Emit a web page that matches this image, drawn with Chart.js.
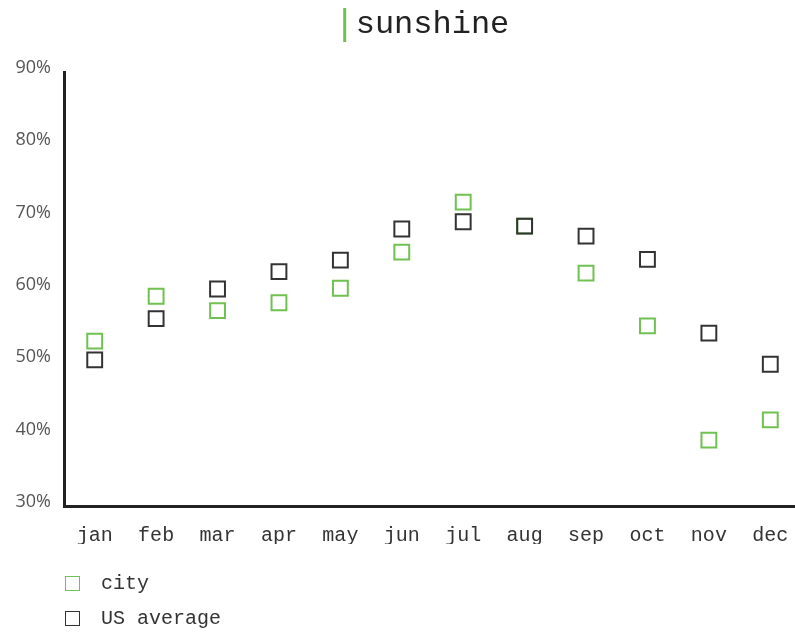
<!DOCTYPE html>
<html>
<head>
<meta charset="utf-8">
<title>sunshine</title>
<script src="https://cdn.jsdelivr.net/npm/chart.js@4"></script>
<style>
  html, body { margin: 0; padding: 0; background: #fff; overflow: hidden; }
  .wrap { position: relative; width: 795px; height: 634px; overflow: hidden; }
  #legend { position: absolute; left: 65px; top: 566px; margin: 0; padding: 0; list-style: none;
    font-family: "Liberation Mono", monospace; font-size: 20px; color: #333; }
  #legend li { display: flex; align-items: center; height: 35px; }
  #legend .box { width: 13px; height: 13px; border: 1.5px solid; margin-right: 21px; box-sizing: content-box; }
</style>
</head>
<body>
<div class="wrap">
  <canvas id="chart" width="801" height="634"></canvas>
  <ul id="legend"></ul>
</div>
<script>
// Sunshine — city vs US average

const months = ['jan', 'feb', 'mar', 'apr', 'may', 'jun', 'jul', 'aug', 'sep', 'oct', 'nov', 'dec'];
const cityValues = [52.8, 59.0, 57.0, 58.1, 60.1, 65.1, 72.0, 68.7, 62.2, 54.9, 39.1, 41.9];
const usValues = [50.2, 55.9, 60.0, 62.4, 64.0, 68.3, 69.3, 68.7, 67.3, 64.1, 53.9, 49.6];
const yTicks = [30, 40, 50, 60, 70, 80, 90];

const GREEN = '#6fc150';
const DARK = '#333333';
const TITLE_FONT = '32px "Liberation Mono", monospace';

// green bar drawn just left of the title text
const titleBar = {
  id: 'titleBar',
  afterDraw(chart) {
    const t = chart.titleBlock;
    if (!t || !t.options.display) return;
    const ctx = chart.ctx;
    ctx.save();
    ctx.font = TITLE_FONT;
    const w = ctx.measureText(t.options.text).width;
    const cx = (t.left + t.right) / 2;
    const x = cx - w / 2 - 11;
    ctx.strokeStyle = GREEN;
    ctx.lineWidth = 3;
    ctx.beginPath();
    ctx.moveTo(x, 8);
    ctx.lineTo(x, 42);
    ctx.stroke();
    ctx.restore();
  }
};

// html legend, one row per dataset
const htmlLegend = {
  id: 'htmlLegend',
  afterUpdate(chart) {
    const ul = document.getElementById('legend');
    ul.innerHTML = '';
    chart.data.datasets.forEach(ds => {
      const li = document.createElement('li');
      const box = document.createElement('span');
      box.className = 'box';
      box.style.borderColor = ds.borderColor;
      const txt = document.createElement('span');
      txt.textContent = ds.label;
      li.appendChild(box);
      li.appendChild(txt);
      ul.appendChild(li);
    });
  }
};

new Chart(document.getElementById('chart'), {
  type: 'line',
  data: {
    labels: months,
    datasets: [
      {
        label: 'city',
        data: cityValues,
        showLine: false,
        pointStyle: 'rect',
        pointRadius: 10.5,
        pointHoverRadius: 10.5,
        pointBorderWidth: 2,
        borderColor: GREEN,
        backgroundColor: 'rgba(0,0,0,0)',
        pointBackgroundColor: 'rgba(0,0,0,0)',
        order: 1
      },
      {
        label: 'US average',
        data: usValues,
        showLine: false,
        pointStyle: 'rect',
        pointRadius: 10.5,
        pointHoverRadius: 10.5,
        pointBorderWidth: 2,
        borderColor: DARK,
        backgroundColor: 'rgba(0,0,0,0)',
        pointBackgroundColor: 'rgba(0,0,0,0)',
        order: 0
      }
    ]
  },
  options: {
    responsive: false,
    animation: false,
    layout: { autoPadding: false, padding: { top: 0, left: 0, right: 0, bottom: 90 } },
    plugins: {
      legend: { display: false },
      tooltip: { enabled: false },
      title: {
        display: true,
        fullSize: false,
        text: 'sunshine',
        color: '#222',
        font: { family: '"Liberation Mono", monospace', size: 32, weight: 'normal', lineHeight: 1.2 },
        padding: { top: 5, bottom: 28.6 }
      }
    },
    scales: {
      x: {
        offset: true,
        grid: { display: false, drawTicks: false },
        border: { display: true, color: '#222', width: 3 },
        ticks: {
          color: '#333',
          padding: 18,
          maxRotation: 0,
          font: { family: '"Liberation Mono", monospace', size: 20 }
        },
        afterFit(scale) {
          scale.height = 38;
          scale.paddingLeft = 0;
          scale.paddingRight = 0;
        }
      },
      y: {
        min: yTicks[0],
        max: yTicks[yTicks.length - 1],
        afterBuildTicks(scale) { scale.ticks = yTicks.map(v => ({ value: v })); },
        grid: { display: false, drawTicks: false },
        border: { display: true, color: '#222', width: 3 },
        ticks: {
          color: '#555',
          padding: 13,
          labelOffset: -4,
          font: { family: '"Open Sans", sans-serif', size: 18 },
          callback: v => v + '%'
        },
        afterFit(scale) { scale.width = 64; }
      }
    }
  },
  plugins: [titleBar, htmlLegend]
});
</script>
</body>
</html>
